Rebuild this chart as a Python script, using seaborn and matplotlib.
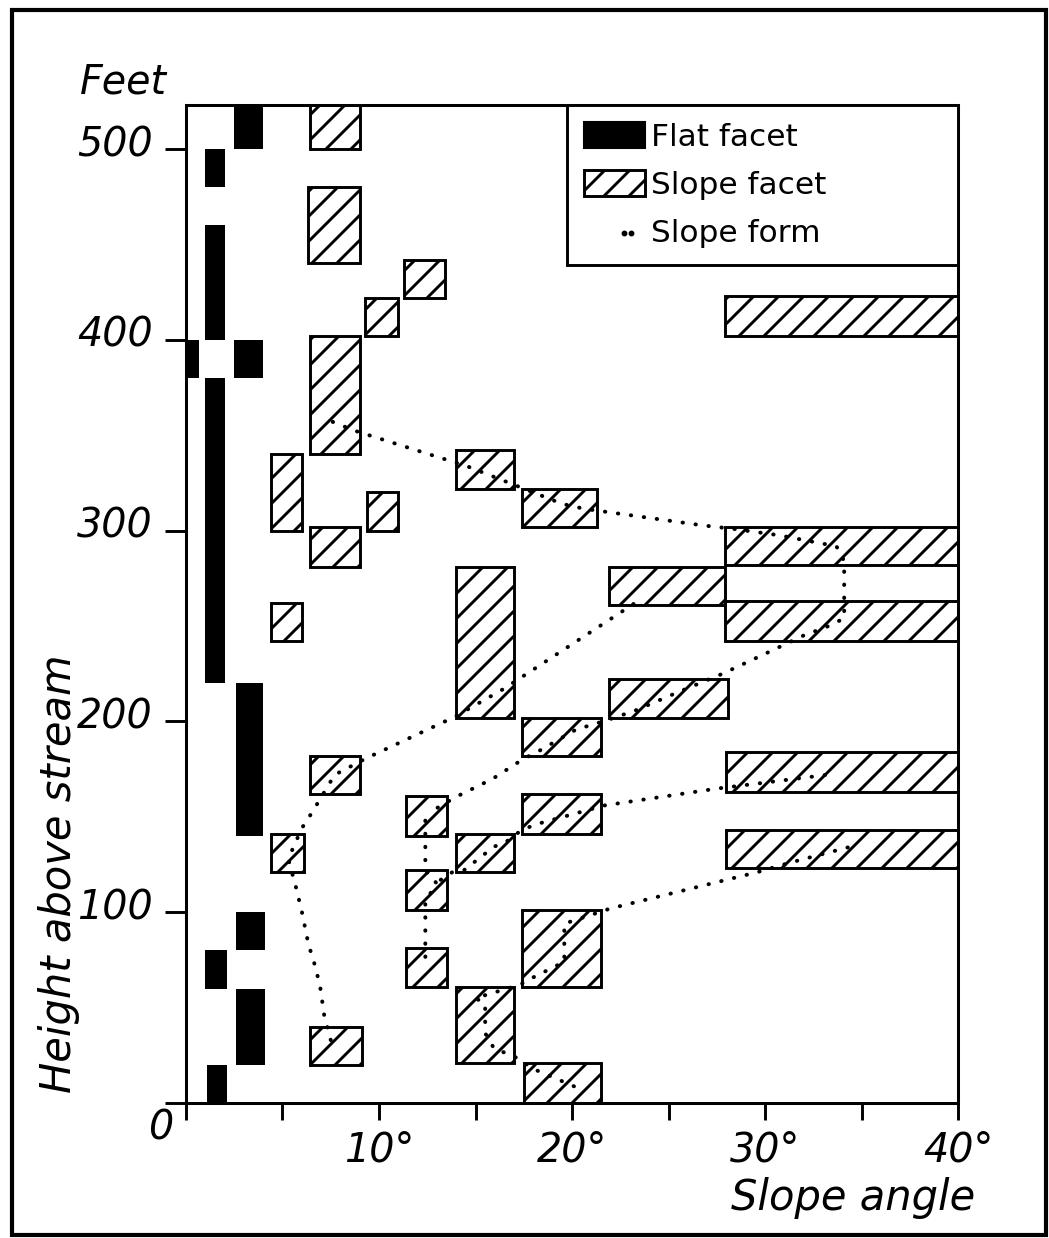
import numpy as np
import pandas as pd
import seaborn as sns
import matplotlib.pyplot as plt
import matplotlib.transforms as mtransforms
from matplotlib.patches import Patch, Rectangle
from matplotlib.lines import Line2D
from matplotlib.legend_handler import HandlerBase

# flat facets (black bars): slope range in degrees, height range in feet
flat_x0 = [2.5, 1.0, 1.0, 0.0, 2.5, 1.0, 2.6, 2.6, 1.0, 2.6, 1.1]
flat_x1 = [4.0, 2.0, 2.0, 0.7, 4.0, 2.0, 4.0, 4.1, 2.1, 4.1, 2.1]
flat_y0 = [500, 480, 400, 380, 380, 220, 140, 80, 60, 20, 0]
flat_y1 = [525, 500, 460, 400, 400, 380, 220, 100, 80, 60, 20]

# slope facets (hatched boxes)
slope_x0 = [6.4, 6.3, 11.3, 9.3, 27.9, 6.4, 14.0, 4.4, 17.4, 9.4, 6.4, 27.9, 21.9, 27.9, 4.4, 14.0,
            21.9, 17.4, 6.4, 28.0, 11.4, 17.4, 4.4, 14.0, 28.0, 11.4, 17.4, 11.4, 14.0, 6.4, 17.5]
slope_x1 = [9.0, 9.0, 13.4, 11.0, 40.0, 9.0, 17.0, 6.0, 21.3, 11.0, 9.0, 40.0, 27.9, 40.0, 6.0, 17.0,
            28.1, 21.5, 9.0, 40.0, 13.5, 21.5, 6.1, 17.0, 40.0, 13.5, 21.5, 13.5, 17.0, 9.1, 21.5]
slope_y0 = [500, 440, 422, 402, 402, 340, 322, 300, 302, 300, 281, 282, 261, 242, 242, 202,
            202, 182, 162, 163, 140, 141, 121, 121, 123, 101, 61, 61, 21, 20, 0]
slope_y1 = [525, 480, 442, 422, 423, 402, 342, 340, 322, 320, 302, 302, 281, 263, 262, 281,
            222, 202, 182, 184, 161, 162, 141, 141, 143, 122, 101, 81, 61, 40, 21]

# slope form (dotted) traces
form1_x = [7.6, 8.7, 12.6, 14.5, 16.5, 18.0, 19.5, 20.6, 26.8, 28.3, 30.7, 33.7, 34.1, 34.1, 33.0,
           32.2, 30.2, 27.8, 25.3, 23.3, 21.8, 20.2, 18.2, 17.5, 15.9, 14.0, 12.9]
form1_y = [357, 352.5, 340, 334, 326, 320, 314, 311.5, 302.7, 301, 297.6, 291.8, 284, 254, 248.6,
           246, 236.4, 225, 214.5, 205.8, 200.6, 195.7, 184, 180.5, 170, 160.5, 154]
form2_x = [12.4, 12.4, 13.0, 12.4, 12.4]
form2_y = [148, 122, 115, 106, 72]
form3_x = [7.5, 7.16, 6.95, 6.7, 6.34, 6.0, 5.7, 5.3, 6.0, 6.55, 7.7, 9.3, 13.9, 16.45, 19.9, 23.6]
form3_y = [33, 46, 61, 71.5, 83.4, 100.4, 113, 128, 144, 152.6, 172, 180.5, 202.3, 217, 239.8, 264.3]
form4_x = [20.1, 17.9, 17.3, 15.95, 15.5, 15.5, 15.0, 17.3, 17.9, 19.0, 19.6, 19.6, 22.0, 29.6, 31.3, 34.3]
form4_y = [8.8, 18.3, 23, 28.8, 36.6, 52, 55, 62, 65.4, 71, 74, 94, 102, 121, 126, 134]
form5_x = [13.2, 13.8, 14.4, 15.95, 16.6, 17.25, 18.0, 21.7, 27.5, 28.7, 33.2]
form5_y = [117, 121, 122, 134.3, 137, 142, 145.7, 156, 164.8, 166.3, 172]

y_ticks = [0, 100, 200, 300, 400, 500]
y_labels = ["", "100", "200", "300", "400", "500"]
x_ticks = [0, 5, 10, 15, 20, 25, 30, 35, 40]
x_labels = ["", "", "10°", "", "20°", "", "30°", "", "40°"]

sns.set_theme(style="ticks")
plt.rcParams["font.family"] = ["DejaVu Sans"]
plt.rcParams["hatch.linewidth"] = 1.4
plt.rcParams["text.color"] = "black"
plt.rcParams["axes.labelcolor"] = "black"

fig = plt.figure(figsize=(1049 / 150, 1238 / 150), dpi=150)
ax = fig.add_axes([0.1773, 0.1090, 0.7360, 0.8061])

ax.bar(flat_x0, np.subtract(flat_y1, flat_y0), width=np.subtract(flat_x1, flat_x0),
       bottom=flat_y0, align="edge", color="black", linewidth=0, zorder=2)
ax.bar(slope_x0, np.subtract(slope_y1, slope_y0), width=np.subtract(slope_x1, slope_x0),
       bottom=slope_y0, align="edge", facecolor="white", edgecolor="black",
       hatch="//", linewidth=1.4, zorder=2)

forms = [(form1_x, form1_y), (form2_x, form2_y), (form3_x, form3_y),
         (form4_x, form4_y), (form5_x, form5_y)]
df = pd.concat([pd.DataFrame({"x": fx, "y": fy, "trace": i}) for i, (fx, fy) in enumerate(forms)])
sns.lineplot(data=df, x="x", y="y", units="trace", estimator=None, sort=False,
             color="black", linewidth=1.9, linestyle=(0, (0.1, 3.2)),
             dash_capstyle="round", legend=False, ax=ax, zorder=3)

ax.set_xlim(0, 40)
ax.set_ylim(0, 523)
ax.set_xticks(x_ticks)
ax.set_xticklabels(x_labels, fontsize=19, style="italic", color="black")
ax.set_yticks(y_ticks)
ax.set_yticklabels(y_labels, fontsize=19, style="italic", color="black")
ax.tick_params(axis="y", direction="out", length=10, width=1.4, pad=6, color="black")
ax.tick_params(axis="x", direction="out", length=8, width=1.4, pad=5, color="black")
# y labels sit a little above their ticks in the original
shift = mtransforms.ScaledTranslation(0, 4 / 72, fig.dpi_scale_trans)
for lab in ax.get_yticklabels():
    lab.set_transform(lab.get_transform() + shift)
for s in ax.spines.values():
    s.set_linewidth(1.45)
    s.set_color("black")

ax.annotate("0", xy=(0, 0), xytext=(-12, -12), textcoords="offset points",
            ha="center", va="center", fontsize=19, style="italic")
ax.text(-0.137, 1.012, "Feet", transform=ax.transAxes, ha="left", va="baseline",
        fontsize=19, style="italic")

ax.set_xlabel("Slope angle", fontsize=20, style="italic", ha="right")
ax.xaxis.set_label_coords(1.022, -0.074)
ax.set_ylabel("Height above stream", fontsize=20, style="italic", loc="bottom")
ax.yaxis.set_label_coords(-0.137, 0.01)


class DotsHandler(HandlerBase):
    def create_artists(self, legend, orig_handle, xdescent, ydescent, width, height, fontsize, trans):
        ln = Line2D([width * 0.66, width * 0.78], [height * 0.35] * 2, linestyle="none",
                    marker="o", markersize=1.8, color="black", transform=trans)
        return [ln]


handles = [Patch(facecolor="black", edgecolor="black"),
           Patch(facecolor="white", edgecolor="black", hatch="//", linewidth=1.4),
           Line2D([], [], color="black")]
leg = ax.legend(handles, ["Flat facet", "Slope facet", "Slope form"],
                loc="upper right", bbox_to_anchor=(0.4935, 0, 0.5065, 1.0), mode="expand",
                borderaxespad=0, fontsize=15, handlelength=1.94, handleheight=0.9,
                handletextpad=0.2, labelspacing=0.58, borderpad=0.55, fancybox=False,
                framealpha=1, edgecolor="black", labelcolor="black",
                handler_map={Line2D: DotsHandler()})
leg.get_frame().set_linewidth(1.4)
leg.set_zorder(5)

fig.add_artist(Rectangle((0.0114, 0.0024), 0.9856, 0.9895, transform=fig.transFigure,
                         fill=False, edgecolor="black", linewidth=2))

fig.savefig("out.png", dpi=150, facecolor="white")
